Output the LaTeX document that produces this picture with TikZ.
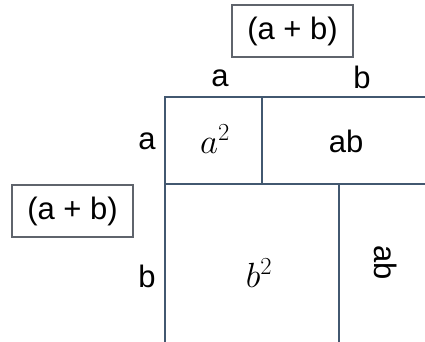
\RequirePackage{fix-cm}
\documentclass[tikz,border=0pt]{standalone}
\usepackage{fontspec}
\setmainfont{Liberation Sans}
\usepackage{tikz}
\usetikzlibrary{positioning}
\definecolor{slate}{RGB}{66,88,112}
\definecolor{boxgray}{RGB}{95,100,108}

\begin{document}
\begin{tikzpicture}[x=1pt,y=-1pt,
    lbl/.style={font=\fontsize{31}{33}\selectfont,inner sep=0pt},
    term/.style={font=\fontsize{35}{37}\selectfont,inner sep=0pt},
    sumbox/.style={draw=boxgray,line width=1.2pt,font=\fontsize{31}{33}\selectfont,minimum width=121pt,minimum height=52pt,inner sep=0pt},
    grid/.style={draw=slate,line width=2pt}]
    \useasboundingbox (0,0) rectangle (425,342);
    % sides
    \node[sumbox] (top) at (292.5,31) {(a + b)};
    \node[sumbox] (left) at (72.5,211) {(a + b)};
    \node[lbl] (ta) at (220,78) {a};
    \node[lbl] (tb) at (362,77) {b};
    \node[lbl] (la) at (147,141) {a};
    \node[lbl] (lb) at (147,276) {b};
    % the square
    \draw[grid] (425,97) -- (165,97) -- (165,342);
    \draw[grid] (165,184) -- (425,184);
    \draw[grid] (262,97) -- (262,184);
    \draw[grid] (339,184) -- (339,342);
    \node[term] (aa) at (215,139) {$a^2$};
    \node[lbl] (ab1) at (346,141) {ab};
    \node[term] (bb) at (259,273) {$b^2$};
    \node[lbl,rotate=-90] (ab2) at (386,263) {ab};
\end{tikzpicture}
\end{document}
